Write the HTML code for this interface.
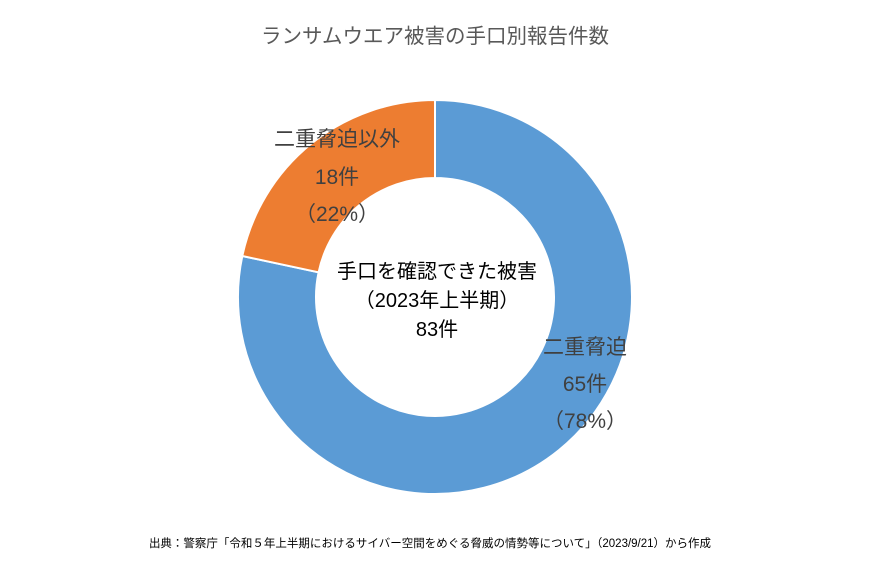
<!DOCTYPE html>
<html><head><meta charset="utf-8"><style>
html,body{margin:0;padding:0;background:#fff;}
body{width:870px;height:575px;overflow:hidden;}
svg text{font-family:"Liberation Sans","Noto Sans CJK JP",sans-serif;}
</style></head><body>
<svg width="870" height="575" viewBox="0 0 870 575" xmlns="http://www.w3.org/2000/svg">
<rect width="870" height="575" fill="#fff"/>
<text x="435" y="43" text-anchor="middle" font-size="20.5" fill="#595959">ランサムウエア被害の手口別報告件数</text>
<path d="M435,100 A197,197 0 1 1 242.3,256.0 L318.6,272.3 A119,119 0 1 0 435,178 Z" fill="#5B9BD5" stroke="#fff" stroke-width="2"/>
<path d="M435,100 L435,178 A119,119 0 0 0 318.6,272.3 L242.3,256.0 A197,197 0 0 1 435,100 Z" fill="#ED7D31" stroke="#fff" stroke-width="2"/>
<g font-size="21" fill="#404040" text-anchor="middle">
<text x="337" y="146">二重脅迫以外</text>
<text x="337" y="184">18件</text>
<text x="337" y="221">（22%）</text>
<text x="585" y="354">二重脅迫</text>
<text x="585" y="391">65件</text>
<text x="585" y="428">（78%）</text>
</g>
<g font-size="20" fill="#000" text-anchor="middle">
<text x="437" y="278">手口を確認できた被害</text>
<text x="437" y="307">（2023年上半期）</text>
<text x="437" y="336">83件</text>
</g>
<text x="430" y="547" text-anchor="middle" font-size="11.5" fill="#000">出典：警察庁「令和５年上半期におけるサイバー空間をめぐる脅威の情勢等について」（2023/9/21）から作成</text>
</svg>
</body></html>
